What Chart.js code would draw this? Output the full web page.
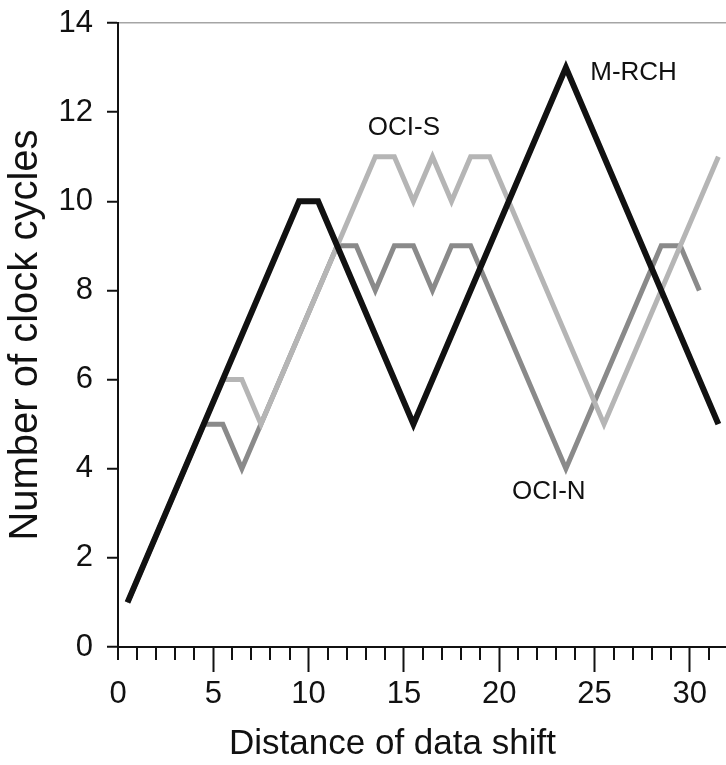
<!DOCTYPE html>
<html>
<head>
<meta charset="utf-8">
<script src="https://cdn.jsdelivr.net/npm/chart.js@4.4.1/dist/chart.umd.min.js"></script>
<style>
  html, body { margin: 0; padding: 0; background: #fff; }
  #wrap { width: 726px; height: 765px; }
</style>
</head>
<body>
<div id="wrap"><canvas id="chart" width="726" height="765"></canvas></div>
<script>
// corner points of each curve (x = distance of data shift, y = clock cycles)
var mrchX = [0.5, 9.5, 10.5, 15.5, 23.5, 31.5];
var mrchY = [1, 10, 10, 5, 13, 5];
var ociSX = [0.5, 5.5, 6.5, 7.5, 13.5, 14.5, 15.5, 16.5, 17.5, 18.5, 19.5, 25.5, 31.5];
var ociSY = [1, 6, 6, 5, 11, 11, 10, 11, 10, 11, 11, 5, 11];
var ociNX = [0.5, 4.5, 5.5, 6.5, 11.5, 12.5, 13.5, 14.5, 15.5, 16.5, 17.5, 18.5, 23.5, 28.5, 29.5, 30.5];
var ociNY = [1, 5, 5, 4, 9, 9, 8, 9, 9, 8, 9, 9, 4, 9, 9, 8];
var seriesNames = ['M-RCH', 'OCI-S', 'OCI-N'];

var xTickValues = [0, 1, 2, 3, 4, 5, 6, 7, 8, 9, 10, 11, 12, 13, 14, 15,
                   16, 17, 18, 19, 20, 21, 22, 23, 24, 25, 26, 27, 28, 29, 30, 31];
var yTickValues = [0, 2, 4, 6, 8, 10, 12, 14];
var xTitle = 'Distance of data shift';
var yTitle = 'Number of clock cycles';

var FONT = '"Liberation Sans", Arial, Helvetica, sans-serif';
var INK = '#111';

// where the curve names sit, in data units
var curveLabels = [
  { text: seriesNames[0], x: 27.05, y: 12.88 },
  { text: seriesNames[1], x: 15.0, y: 11.64 },
  { text: seriesNames[2], x: 22.6, y: 3.48 }
];
// the x title is not centred on the (cropped) axis in the original
var xTitleAt = 14.4;

function toPoints(xs, ys) {
  return xs.map(function (x, i) { return { x: x, y: ys[i] }; });
}

function isMajor(v) {
  return v > 0 && v % 5 === 0;
}

// minor x ticks are shorter than the major ones, so draw them here
var extras = {
  id: 'extras',
  afterDraw: function (chart) {
    var ctx = chart.ctx;
    var xs = chart.scales.x, ys = chart.scales.y;
    ctx.save();
    ctx.strokeStyle = INK;
    ctx.lineWidth = 2;
    xTickValues.forEach(function (v) {
      if (isMajor(v)) return;
      var px = Math.round(xs.getPixelForValue(v));
      ctx.beginPath();
      ctx.moveTo(px, ys.bottom);
      ctx.lineTo(px, ys.bottom + 13);
      ctx.stroke();
    });

    ctx.fillStyle = INK;
    ctx.textAlign = 'center';
    ctx.textBaseline = 'middle';
    ctx.font = '35px ' + FONT;
    ctx.fillText(xTitle, xs.getPixelForValue(xTitleAt), xs.bottom - 21);

    ctx.font = '26px ' + FONT;
    curveLabels.forEach(function (l) {
      ctx.fillText(l.text, xs.getPixelForValue(l.x), ys.getPixelForValue(l.y));
    });
    ctx.restore();
  }
};

Chart.defaults.font.family = FONT;
Chart.defaults.color = INK;

new Chart(document.getElementById('chart').getContext('2d'), {
  type: 'scatter',
  data: {
    datasets: [
      { label: seriesNames[0], data: toPoints(mrchX, mrchY), borderColor: '#111', borderWidth: 6 },
      { label: seriesNames[1], data: toPoints(ociSX, ociSY), borderColor: '#b5b5b5', borderWidth: 5 },
      { label: seriesNames[2], data: toPoints(ociNX, ociNY), borderColor: '#8a8a8a', borderWidth: 5 }
    ]
  },
  options: {
    responsive: false,
    animation: false,
    devicePixelRatio: 1,
    showLine: true,
    elements: {
      point: { radius: 0, hoverRadius: 0 },
      line: { tension: 0, borderJoinStyle: 'miter', borderCapStyle: 'butt', fill: false }
    },
    layout: { padding: { top: 23, right: 0, left: 0, bottom: 0 } },
    plugins: {
      legend: { display: false },
      tooltip: { enabled: false }
    },
    scales: {
      x: {
        type: 'linear',
        min: 0,
        max: 31.9,
        afterBuildTicks: function (s) {
          s.ticks = xTickValues.map(function (v) { return { value: v }; });
        },
        afterFit: function (s) {
          s.height = 118;
          s.paddingLeft = 0;
          s.paddingRight = 0;
        },
        border: { color: INK, width: 2 },
        grid: {
          drawOnChartArea: false,
          tickLength: 25,
          tickWidth: 2,
          tickColor: function (c) {
            return c.tick && isMajor(c.tick.value) ? INK : 'rgba(0,0,0,0)';
          }
        },
        ticks: {
          autoSkip: false,
          maxRotation: 0,
          padding: 4,
          color: INK,
          font: { size: 31 },
          callback: function (v) { return v % 5 === 0 ? String(v) : ''; }
        },
        title: { display: false }
      },
      y: {
        min: 0,
        max: 14,
        afterBuildTicks: function (s) {
          s.ticks = yTickValues.map(function (v) { return { value: v }; });
        },
        afterFit: function (s) {
          s.width = 118;
          s.paddingTop = 0;
          s.paddingBottom = 0;
        },
        border: { color: INK, width: 2 },
        grid: {
          drawOnChartArea: true,
          color: function (c) {
            return c.tick && c.tick.value === 14 ? '#a5a5a5' : 'rgba(0,0,0,0)';
          },
          lineWidth: 1.5,
          tickLength: 11,
          tickWidth: 2,
          tickColor: INK
        },
        ticks: {
          padding: 14,
          color: INK,
          font: { size: 31 }
        },
        title: {
          display: true,
          text: yTitle,
          color: INK,
          font: { size: 40 },
          padding: { top: 2, bottom: 0 }
        }
      }
    }
  },
  plugins: [extras]
});
</script>
</body>
</html>
